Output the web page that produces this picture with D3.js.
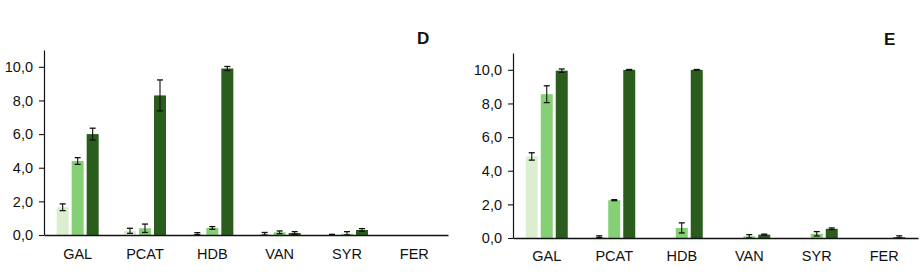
<!DOCTYPE html>
<html><head><meta charset="utf-8">
<script src="https://cdn.jsdelivr.net/npm/d3@7"></script>
<style>
html,body{margin:0;padding:0;background:#fff;}
svg text{font-family:"Liberation Sans",Arial,sans-serif;}
</style></head>
<body>
<svg id="chart" width="923" height="272"></svg>
<script>
const categories = ["GAL","PCAT","HDB","VAN","SYR","FER"];
const seriesNames = ["low","mid","high"];
const seriesColors = ["#dbefd0","#85d074","#2a5d1d"];
const yTicks = [0,2,4,6,8,10];
const yTickLabels = ["0,0","2,0","4,0","6,0","8,0","10,0"];

// Panel D
const dLow     = [1.65, 0.25, 0.08, 0.05, 0.02, 0];
const dLowErr  = [0.2, 0.15, 0.06, 0.1, 0.02, 0];
const dMid     = [4.4, 0.4, 0.42, 0.16, 0.07, 0];
const dMidErr  = [0.2, 0.25, 0.08, 0.08, 0.13, 0];
const dHigh    = [6.0, 8.3, 9.9, 0.12, 0.3, 0];
const dHighErr = [0.35, 0.92, 0.12, 0.08, 0.08, 0];

// Panel E
const eLow     = [4.85, 0.08, 0, 0, 0, 0];
const eLowErr  = [0.22, 0.05, 0, 0, 0, 0];
const eMid     = [8.55, 2.25, 0.6, 0.1, 0.25, 0];
const eMidErr  = [0.5, 0.03, 0.3, 0.1, 0.13, 0];
const eHigh    = [9.95, 10.0, 10.0, 0.2, 0.55, 0.05];
const eHighErr = [0.1, 0.02, 0.02, 0.03, 0.05, 0.08];

const panels = [
  {label:"D", x0:44, x1:448, base:235, top:50, labelX:417, labelY:44, catY:259,
   values:[dLow,dMid,dHigh], errs:[dLowErr,dMidErr,dHighErr]},
  {label:"E", x0:513, x1:918, base:238, top:53, labelX:884, labelY:45, catY:261,
   values:[eLow,eMid,eHigh], errs:[eLowErr,eMidErr,eHighErr]}
];

const svg = d3.select("#chart");

panels.forEach(p => {
  const g = svg.append("g");
  const x = d3.scaleBand().domain(categories).range([p.x0, p.x1]).padding(0);
  const xs = d3.scaleBand().domain(seriesNames).range([-21, 21]).paddingInner(0.2);
  const y = d3.scaleLinear().domain([0, 11]).range([p.base, p.top]);

  // bars
  seriesNames.forEach((s, si) => {
    const data = categories.map((c, i) => ({c, v:p.values[si][i], e:p.errs[si][i]}));
    g.selectAll(null).data(data).enter().append("rect")
      .attr("x", d => x(d.c) + x.bandwidth()/2 + xs(s))
      .attr("width", xs.bandwidth())
      .attr("y", d => y(d.v))
      .attr("height", d => y(0) - y(d.v))
      .attr("fill", seriesColors[si]);
    const eb = data.filter(d => d.e > 0);
    const cx = d => x(d.c) + x.bandwidth()/2 + xs(s) + xs.bandwidth()/2;
    g.selectAll(null).data(eb).enter().append("line")
      .attr("x1", cx).attr("x2", cx)
      .attr("y1", d => y(d.v + d.e)).attr("y2", d => y(Math.max(0, d.v - d.e)))
      .attr("stroke", "#111").attr("stroke-width", 1.1);
    g.selectAll(null).data(eb).enter().append("line")
      .attr("x1", d => cx(d) - 3).attr("x2", d => cx(d) + 3)
      .attr("y1", d => y(d.v + d.e)).attr("y2", d => y(d.v + d.e))
      .attr("stroke", "#111").attr("stroke-width", 1.3);
    g.selectAll(null).data(eb).enter().append("line")
      .attr("x1", d => cx(d) - 3).attr("x2", d => cx(d) + 3)
      .attr("y1", d => y(Math.max(0, d.v - d.e))).attr("y2", d => y(Math.max(0, d.v - d.e)))
      .attr("stroke", "#111").attr("stroke-width", 1.3);
  });

  // y axis
  const yAxis = d3.axisLeft(y).tickValues(yTicks)
    .tickFormat((d, i) => yTickLabels[i]).tickSize(5).tickPadding(6).tickSizeOuter(0);
  const ya = g.append("g").attr("transform", `translate(${p.x0},0)`).call(yAxis);
  ya.select(".domain").attr("stroke", "#111").attr("stroke-width", 1.2);
  ya.selectAll(".tick line").attr("stroke", "#111").attr("stroke-width", 1.1);
  ya.selectAll(".tick text").attr("font-size", 14.5).attr("fill", "#111")
    .attr("font-family", "'Liberation Sans', Arial, sans-serif");

  // x axis
  const xAxis = d3.axisBottom(x).tickSize(0).tickPadding(10).tickSizeOuter(0);
  const xa = g.append("g").attr("transform", `translate(0,${p.base})`).call(xAxis);
  xa.select(".domain").attr("stroke", "#111").attr("stroke-width", 1.3);
  xa.selectAll(".tick text").attr("font-size", 14.5).attr("fill", "#111")
    .attr("dy", null).attr("y", p.catY - p.base)
    .attr("font-family", "'Liberation Sans', Arial, sans-serif");

  // panel label
  g.append("text").attr("x", p.labelX).attr("y", p.labelY)
    .attr("font-size", 17).attr("font-weight", "bold").attr("fill", "#111")
    .text(p.label);
});
</script>
</body></html>
